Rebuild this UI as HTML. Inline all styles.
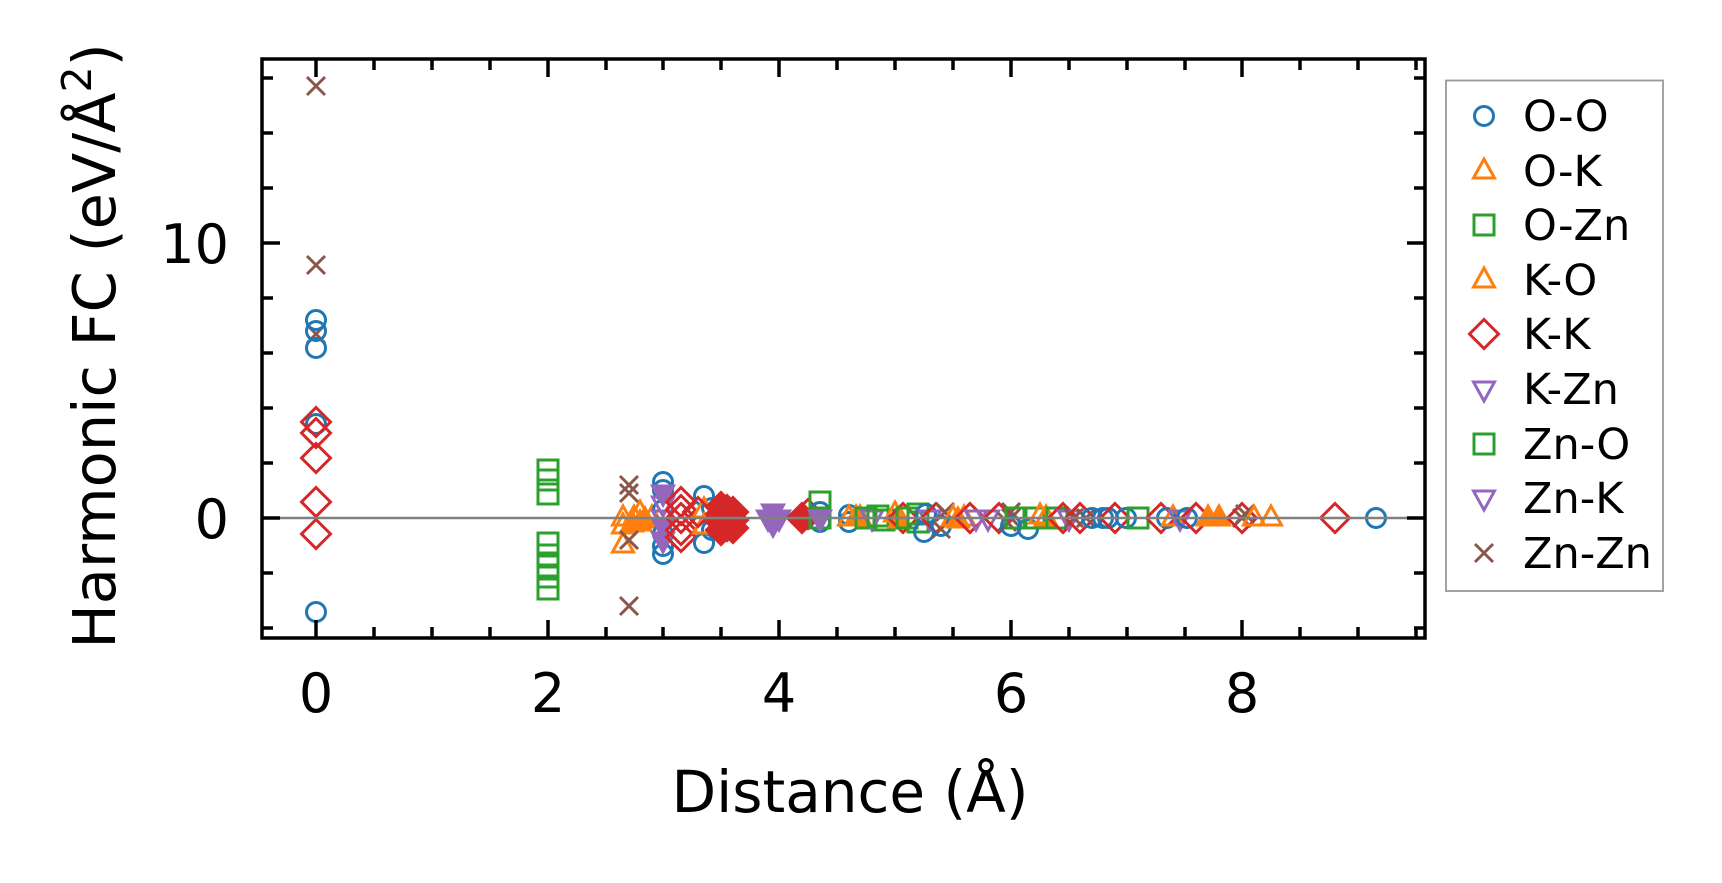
<!DOCTYPE html>
<html><head><meta charset="utf-8"><style>
html,body{margin:0;padding:0;background:#fff;}
svg{display:block;font-family:"DejaVu Sans","Liberation Sans",sans-serif;}
</style></head><body>
<svg width="1722" height="883" viewBox="0 0 1722 883" xmlns="http://www.w3.org/2000/svg">
<defs>
<g id="c"><circle r="9.5" fill="none" stroke="#1f77b4" stroke-width="3"/></g>
<g id="tu"><polygon points="0,-12 10.5,7 -10.5,7" fill="none" stroke="#ff7f0e" stroke-width="3"/></g>
<g id="s"><rect x="-10" y="-10" width="20" height="20" fill="none" stroke="#2ca02c" stroke-width="3"/></g>
<g id="d"><polygon points="0,-14.5 14.5,0 0,14.5 -14.5,0" fill="none" stroke="#d62728" stroke-width="3"/></g>
<g id="td"><polygon points="0,12 10.5,-7 -10.5,-7" fill="none" stroke="#9467bd" stroke-width="3"/></g>
<g id="x"><path d="M-9,-9L9,9M-9,9L9,-9" stroke="#8c564b" stroke-width="3"/></g>
<g id="fd"><polygon points="0,-14.5 14.5,0 0,14.5 -14.5,0" fill="#d62728" stroke="#d62728" stroke-width="3"/></g>
<g id="ftd"><polygon points="0,12 10.5,-7 -10.5,-7" fill="#9467bd" stroke="#9467bd" stroke-width="3"/></g>
<g id="ftu"><polygon points="0,-12 10.5,7 -10.5,7" fill="#ff7f0e" stroke="#ff7f0e" stroke-width="3"/></g>
</defs>

<g>
<use href="#x" x="316" y="86"/><use href="#x" x="316" y="265"/><use href="#x" x="316" y="334"/>
<use href="#c" x="316" y="320"/><use href="#c" x="316" y="331"/><use href="#c" x="316" y="348"/><use href="#c" x="316" y="424"/><use href="#c" x="316" y="612"/>
<use href="#d" x="316" y="422"/><use href="#d" x="316" y="433"/><use href="#d" x="316" y="458"/><use href="#d" x="316" y="502"/><use href="#d" x="316" y="534"/>

<use href="#s" x="548" y="470"/><use href="#s" x="548" y="480"/><use href="#s" x="548" y="494"/>
<use href="#s" x="548" y="543"/><use href="#s" x="548" y="555"/><use href="#s" x="548" y="566"/><use href="#s" x="548" y="577"/><use href="#s" x="548" y="589"/>

<use href="#tu" x="623" y="545"/><use href="#tu" x="623" y="526"/><use href="#tu" x="623" y="518"/>
<use href="#tu" x="634" y="518"/><use href="#tu" x="640" y="523"/><use href="#tu" x="640" y="513"/><use href="#tu" x="652" y="518"/>
<use href="#ftu" x="645" y="520"/><use href="#ftu" x="632" y="524"/>
<use href="#x" x="629" y="485"/><use href="#x" x="629" y="493"/><use href="#x" x="629" y="540"/><use href="#x" x="629" y="606"/>

<use href="#c" x="663" y="482"/><use href="#c" x="663" y="490"/><use href="#c" x="663" y="554"/><use href="#c" x="663" y="546"/><use href="#c" x="663" y="534"/><use href="#c" x="663" y="510"/>
<use href="#ftd" x="663" y="493"/><use href="#td" x="663" y="504"/><use href="#ftd" x="663" y="526"/><use href="#ftd" x="663" y="540"/><use href="#td" x="663" y="518"/>
<use href="#d" x="681" y="502"/><use href="#d" x="681" y="510"/><use href="#d" x="681" y="518"/><use href="#d" x="681" y="530"/><use href="#d" x="681" y="537"/>
<use href="#c" x="704" y="496"/><use href="#c" x="704" y="543"/><use href="#c" x="712" y="508"/><use href="#c" x="712" y="530"/>
<use href="#tu" x="704" y="510"/><use href="#tu" x="704" y="526"/><use href="#d" x="698" y="512"/>
<use href="#fd" x="721" y="507"/><use href="#fd" x="721" y="514"/><use href="#fd" x="721" y="522"/><use href="#fd" x="721" y="530"/>
<use href="#fd" x="727" y="510"/><use href="#fd" x="727" y="518"/><use href="#fd" x="727" y="526"/>
<use href="#fd" x="733" y="512"/><use href="#fd" x="733" y="520"/><use href="#fd" x="733" y="528"/>
<use href="#ftd" x="773" y="512"/><use href="#ftd" x="773" y="524"/><use href="#ftd" x="768" y="518"/><use href="#ftd" x="779" y="518"/>
<use href="#fd" x="802" y="518"/><use href="#d" x="808" y="514"/>
<use href="#c" x="820" y="512"/><use href="#c" x="820" y="522"/><use href="#s" x="820" y="502"/><use href="#s" x="820" y="518"/><use href="#ftd" x="820" y="518"/>
<use href="#c" x="849" y="515"/><use href="#c" x="849" y="522"/><use href="#tu" x="849" y="518"/><use href="#ftu" x="856" y="518"/>
<use href="#tu" x="860" y="518"/><use href="#s" x="866" y="518"/><use href="#td" x="872" y="518"/><use href="#s" x="878" y="516"/><use href="#s" x="884" y="520"/>
<use href="#tu" x="895" y="514"/><use href="#ftu" x="900" y="520"/><use href="#d" x="903" y="518"/><use href="#s" x="907" y="518"/><use href="#s" x="918" y="514"/><use href="#s" x="918" y="522"/>
<use href="#c" x="924" y="532"/><use href="#c" x="926" y="514"/><use href="#td" x="930" y="518"/><use href="#d" x="936" y="518"/><use href="#x" x="941" y="529"/><use href="#c" x="941" y="526"/><use href="#x" x="945" y="512"/>
<use href="#tu" x="953" y="518"/><use href="#ftu" x="958" y="520"/><use href="#tu" x="964" y="518"/><use href="#d" x="970" y="518"/><use href="#td" x="976" y="518"/><use href="#td" x="988" y="518"/>
<use href="#d" x="999" y="518"/><use href="#x" x="1011" y="518"/><use href="#x" x="1011" y="512"/><use href="#x" x="1007" y="522"/><use href="#c" x="1011" y="526"/><use href="#s" x="1016" y="518"/>
<use href="#c" x="1028" y="529"/><use href="#s" x="1034" y="518"/><use href="#tu" x="1040" y="516"/><use href="#tu" x="1046" y="518"/><use href="#s" x="1057" y="518"/><use href="#d" x="1063" y="518"/>
<use href="#td" x="1069" y="518"/><use href="#x" x="1074" y="518"/><use href="#d" x="1080" y="518"/><use href="#x" x="1086" y="518"/><use href="#c" x="1092" y="518"/><use href="#c" x="1103" y="518"/><use href="#c" x="1108" y="518"/>
<use href="#d" x="1115" y="518"/><use href="#c" x="1126" y="518"/><use href="#s" x="1138" y="518"/><use href="#d" x="1161" y="518"/><use href="#c" x="1167" y="518"/><use href="#tu" x="1173" y="518"/>
<use href="#td" x="1180" y="518"/><use href="#c" x="1187" y="518"/><use href="#d" x="1196" y="518"/><use href="#ftu" x="1208" y="518"/><use href="#ftu" x="1219" y="518"/>
<use href="#x" x="1242" y="518"/><use href="#d" x="1242" y="518"/><use href="#x" x="1245" y="514"/><use href="#tu" x="1254" y="518"/><use href="#tu" x="1271" y="518"/>
<use href="#d" x="1335" y="518"/><use href="#c" x="1376" y="518"/>
</g>

<line x1="262" y1="518" x2="1425" y2="518" stroke="#808080" stroke-width="2.4"/>

<g stroke="#000" stroke-width="3.5">
<path d="M316,638v-18M548,638v-18M779,638v-18M1011,638v-18M1242,638v-18
M316,59v18M548,59v18M779,59v18M1011,59v18M1242,59v18
M262,518h18M262,243h18M1425,518h-18M1425,243h-18"/>
<path d="M374,638v-11M432,638v-11M490,638v-11M606,638v-11M663,638v-11M721,638v-11M837,638v-11M895,638v-11M953,638v-11M1069,638v-11M1127,638v-11M1185,638v-11M1300,638v-11M1358,638v-11M1416,638v-11
M374,59v11M432,59v11M490,59v11M606,59v11M663,59v11M721,59v11M837,59v11M895,59v11M953,59v11M1069,59v11M1127,59v11M1185,59v11M1300,59v11M1358,59v11M1416,59v11
M262,628h11M262,573h11M262,463h11M262,408h11M262,353h11M262,298h11M262,188h11M262,133h11M262,78h11
M1425,628h-11M1425,573h-11M1425,463h-11M1425,408h-11M1425,353h-11M1425,298h-11M1425,188h-11M1425,133h-11M1425,78h-11"/>
</g>
<rect x="262" y="59" width="1163" height="579" fill="none" stroke="#000" stroke-width="3.5"/>

<g font-size="54" fill="#000" text-anchor="middle">
<text x="316" y="712">0</text><text x="548" y="712">2</text><text x="779" y="712">4</text><text x="1011" y="712">6</text><text x="1242" y="712">8</text>
</g>
<g font-size="54" fill="#000" text-anchor="end">
<text x="229" y="538">0</text><text x="229" y="263">10</text>
</g>
<text x="850" y="812" font-size="58" text-anchor="middle">Distance (Å)</text>
<text transform="translate(115,346) rotate(-90)" font-size="59" text-anchor="middle">Harmonic FC (eV/Å<tspan font-size="41" dy="-24">2</tspan><tspan dy="24">)</tspan></text>

<rect x="1446" y="80.5" width="217" height="510.5" fill="#fff" stroke="#999" stroke-width="1.8"/>
<g font-size="43" fill="#000">
<use href="#c" x="1484" y="116"/><text x="1523" y="131">O-O</text>
<use href="#tu" x="1484" y="171"/><text x="1523" y="186">O-K</text>
<use href="#s" x="1484" y="225"/><text x="1523" y="240">O-Zn</text>
<use href="#tu" x="1484" y="280"/><text x="1523" y="295">K-O</text>
<use href="#d" x="1484" y="334"/><text x="1523" y="349">K-K</text>
<use href="#td" x="1484" y="389"/><text x="1523" y="404">K-Zn</text>
<use href="#s" x="1484" y="444"/><text x="1523" y="459">Zn-O</text>
<use href="#td" x="1484" y="498"/><text x="1523" y="513">Zn-K</text>
<use href="#x" x="1484" y="553"/><text x="1523" y="568">Zn-Zn</text>
</g>
</svg>
</body></html>
